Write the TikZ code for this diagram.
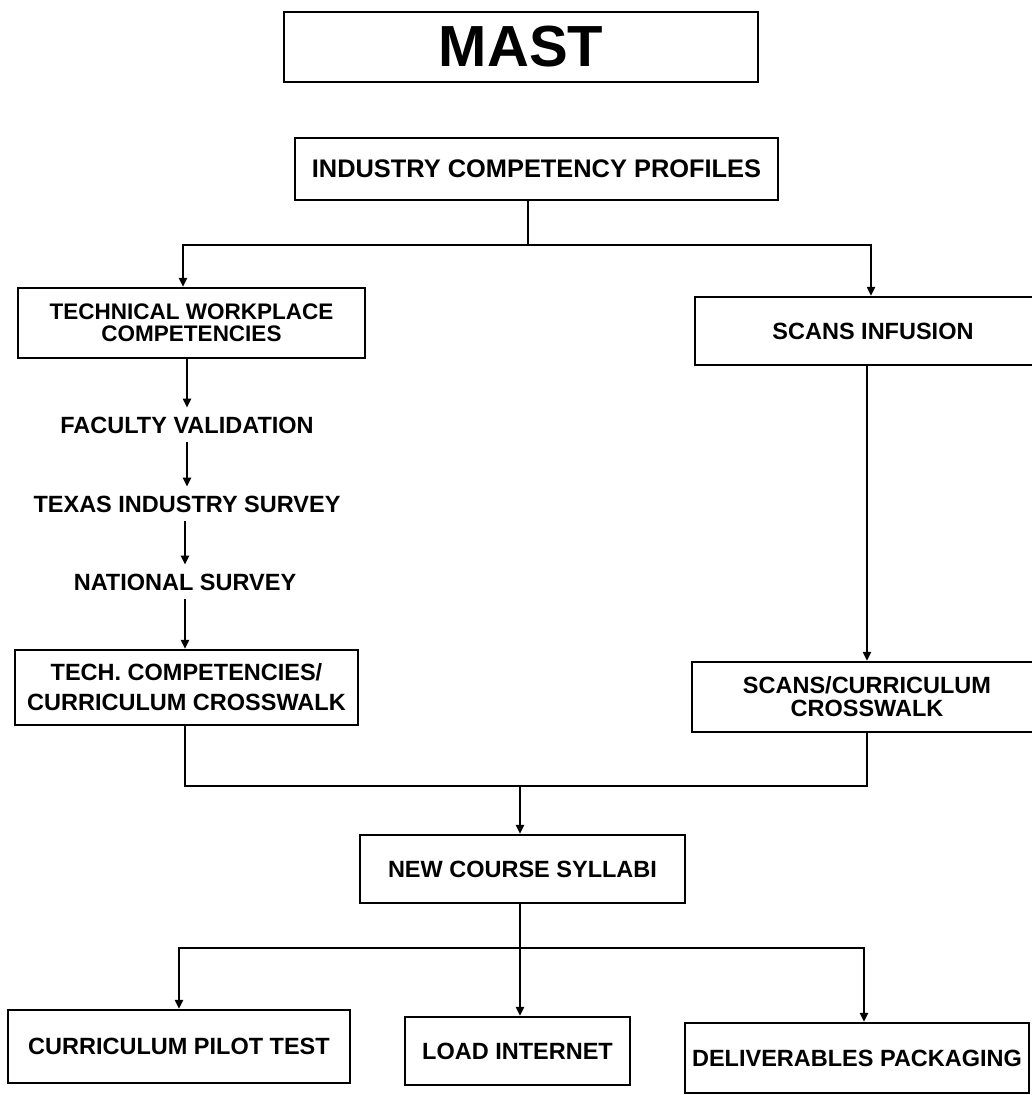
\documentclass[tikz,border=0pt]{standalone}
\usepackage{fontspec}
\setmainfont{Liberation Sans}
\usetikzlibrary{arrows.meta}
\begin{document}
\begin{tikzpicture}[x=1pt,y=-1pt,line width=2.2pt,
  box/.style={draw,line width=2.4pt,inner sep=0pt,align=center,
    font=\fontsize{23.5}{24}\selectfont\bfseries},
  lbl/.style={inner sep=8pt,align=center,font=\fontsize{23.5}{24}\selectfont\bfseries},
  arr/.style={-{Triangle[length=9pt,width=8pt]}}]
\useasboundingbox (0,0) rectangle (1031,1095);
% boxes
\node[box,minimum width=474pt,minimum height=70pt,font=\fontsize{58}{58}\selectfont\bfseries] (mast) at (521,47) {MAST};
\node[box,minimum width=483pt,minimum height=62pt,font=\fontsize{25.4}{26}\selectfont\bfseries] (icp) at (536.5,169) {INDUSTRY COMPETENCY PROFILES};
\node[box,minimum width=347pt,minimum height=70pt,font=\fontsize{22.5}{22}\selectfont\bfseries] (twc) at (191.5,323) {TECHNICAL WORKPLACE\\COMPETENCIES};
\node[box,minimum width=356pt,minimum height=68pt] (scans) at (873,331) {SCANS INFUSION};
\node[lbl] (fv) at (187,425) {FACULTY VALIDATION};
\node[lbl] (tis) at (187,504) {TEXAS INDUSTRY SURVEY};
\node[lbl] (ns) at (185,582) {NATIONAL SURVEY};
\node[box,minimum width=343pt,minimum height=75pt,font=\fontsize{23.5}{30}\selectfont\bfseries] (tcc) at (186.5,687.5) {TECH. COMPETENCIES/\\CURRICULUM CROSSWALK};
\node[box,minimum width=350pt,minimum height=70pt,font=\fontsize{23.5}{23}\selectfont\bfseries] (scc) at (867,697) {SCANS/CURRICULUM\\CROSSWALK};
\node[box,minimum width=325pt,minimum height=68pt] (ncs) at (522.5,869) {NEW COURSE SYLLABI};
\node[box,minimum width=342pt,minimum height=73pt] (cpt) at (179,1046.5) {CURRICULUM PILOT TEST};
\node[box,minimum width=225pt,minimum height=68pt] (li) at (517.5,1051) {LOAD INTERNET};
\node[box,minimum width=344pt,minimum height=70pt] (dp) at (857,1058) {DELIVERABLES PACKAGING};
% top split
\coordinate (jt) at (528,245);
\draw (jt |- icp.south) -- (jt);
\draw[arr] (jt) -| ([xshift=-8.5pt]twc.north);
\draw[arr] (jt) -| ([xshift=-2pt]scans.north);
% left chain
\draw[arr] (twc.south -| fv.north) -- (fv.north);
\draw[arr] (fv.south) -- (tis.north);
\draw[arr] (ns.north |- tis.south) -- (ns.north);
\draw[arr] (ns.south) -- (ns.south |- tcc.north);
% right chain
\draw[arr] (scans.south -| scc.north) -- (scc.north);
% merge
\coordinate (jm) at (520,786);
\draw ([xshift=-1.5pt]tcc.south) |- (jm) -| (scc.south);
\draw[arr] (jm) -- (jm |- ncs.north);
% bottom split
\coordinate (jb) at (520,948);
\draw (jb |- ncs.south) -- (jb);
\draw[arr] (jb) -| (cpt.north);
\draw[arr] (jb) -- (jb |- li.north);
\draw[arr] (jb) -| ([xshift=7pt]dp.north);
\end{tikzpicture}
\end{document}
